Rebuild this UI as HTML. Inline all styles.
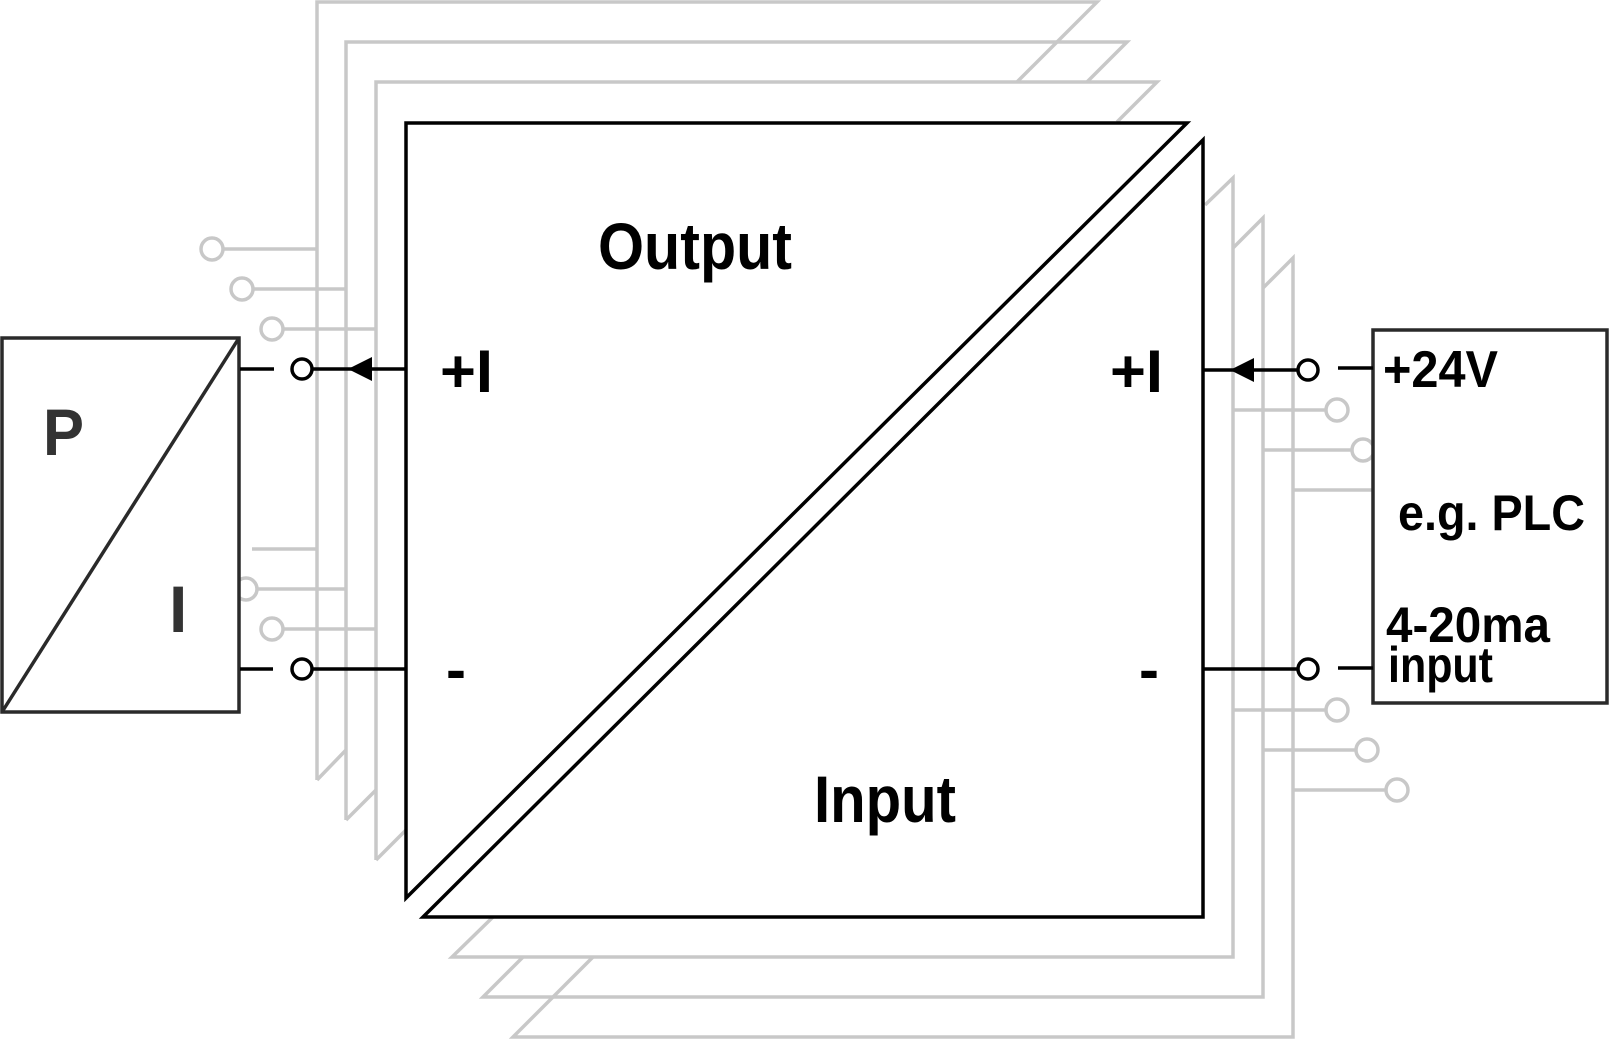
<!DOCTYPE html>
<html><head><meta charset="utf-8"><style>
html,body{margin:0;padding:0;background:#fff;}
svg{display:block;}
text{font-family:"Liberation Sans",Arial,sans-serif;font-weight:bold;}
</style></head><body>
<svg width="1612" height="1040" viewBox="0 0 1612 1040" xmlns="http://www.w3.org/2000/svg">
<g fill="none" stroke="#c8c8c8" stroke-width="3.5">
  <polyline points="317,780 317,2 1097,2 1017,82"/>
  <line x1="317" y1="780" x2="346" y2="750"/>
  <polyline points="346,820 346,42 1127,42 1087,82"/>
  <line x1="346" y1="820" x2="376" y2="790"/>
  <polyline points="376,860 376,82 1157,82 1117,122"/>
  <line x1="376" y1="860" x2="406" y2="830"/>
  <polyline points="1205,205 1233,178 1233,957 452,957 493,917"/>
  <polyline points="1233,248 1263,218 1263,997 483,997 523,957"/>
  <polyline points="1263,288 1293,258 1293,1037 513,1037 593,957"/>
  <line x1="223" y1="249" x2="317" y2="249"/><circle cx="212" cy="249" r="11"/>
  <line x1="253" y1="289" x2="346" y2="289"/><circle cx="242" cy="289" r="11"/>
  <line x1="283" y1="329" x2="376" y2="329"/><circle cx="272" cy="329" r="11"/>
  <line x1="252" y1="549" x2="317" y2="549"/>
  <line x1="257" y1="589" x2="346" y2="589"/><circle cx="246" cy="589" r="11"/>
  <line x1="283" y1="629" x2="376" y2="629"/><circle cx="272" cy="629" r="11"/>
  <line x1="1233" y1="410" x2="1326" y2="410"/><circle cx="1337" cy="410" r="11"/>
  <line x1="1263" y1="450" x2="1352" y2="450"/><circle cx="1363" cy="450" r="11"/>
  <line x1="1293" y1="490" x2="1373" y2="490"/>
  <line x1="1233" y1="710" x2="1326" y2="710"/><circle cx="1337" cy="710" r="11"/>
  <line x1="1263" y1="750" x2="1356" y2="750"/><circle cx="1367" cy="750" r="11"/>
  <line x1="1293" y1="790" x2="1386" y2="790"/><circle cx="1397" cy="790" r="11"/>
</g>
<g fill="#fff" stroke="#000" stroke-width="3.5" stroke-linejoin="miter">
  <polygon points="406,123 1187,123 406,898"/>
  <polygon points="1203,140 1203,917 423,917"/>
</g>
<g fill="#fff" stroke="#2a2a2a" stroke-width="3.5">
  <rect x="2" y="338" width="237" height="374"/>
  <line x1="2" y1="712" x2="239" y2="338"/>
</g>
<rect x="1373" y="330" width="234" height="373" fill="#fff" stroke="#2a2a2a" stroke-width="3.5"/>
<g stroke="#000" stroke-width="3.5" fill="#fff">
  <line x1="240" y1="369" x2="274" y2="369"/>
  <line x1="313" y1="369" x2="406" y2="369"/>
  <circle cx="302" cy="369" r="10"/>
  <line x1="240" y1="669" x2="273" y2="669"/>
  <line x1="313" y1="669" x2="406" y2="669"/>
  <circle cx="302" cy="669" r="10"/>
  <line x1="1203" y1="370" x2="1297" y2="370"/>
  <circle cx="1308" cy="370" r="10"/>
  <line x1="1338" y1="368" x2="1373" y2="368"/>
  <line x1="1203" y1="669" x2="1297" y2="669"/>
  <circle cx="1308" cy="669" r="10"/>
  <line x1="1338" y1="668" x2="1373" y2="668"/>
</g>
<polygon points="348,369 372,357 372,381" fill="#000"/>
<polygon points="1230,370 1254,358 1254,382" fill="#000"/>
<text x="598" y="269" font-size="66" textLength="194" lengthAdjust="spacingAndGlyphs">Output</text>
<text x="814" y="822" font-size="66" textLength="142" lengthAdjust="spacingAndGlyphs">Input</text>
<text x="440" y="392" font-size="60" textLength="53" lengthAdjust="spacingAndGlyphs">+I</text>
<text x="446" y="690" font-size="60">-</text>
<text x="1110" y="392" font-size="60" textLength="53" lengthAdjust="spacingAndGlyphs">+I</text>
<text x="1139" y="690" font-size="60">-</text>
<text x="43" y="455" font-size="66" fill="#333" textLength="41" lengthAdjust="spacingAndGlyphs">P</text>
<text x="169" y="632" font-size="66" fill="#333">I</text>
<text x="1383" y="387" font-size="52" textLength="115" lengthAdjust="spacingAndGlyphs">+24V</text>
<text x="1398" y="530" font-size="50" textLength="187" lengthAdjust="spacingAndGlyphs">e.g. PLC</text>
<text x="1386" y="642" font-size="50" textLength="164" lengthAdjust="spacingAndGlyphs">4-20ma</text>
<text x="1388" y="682" font-size="50" textLength="105" lengthAdjust="spacingAndGlyphs">input</text>
</svg>
</body></html>
